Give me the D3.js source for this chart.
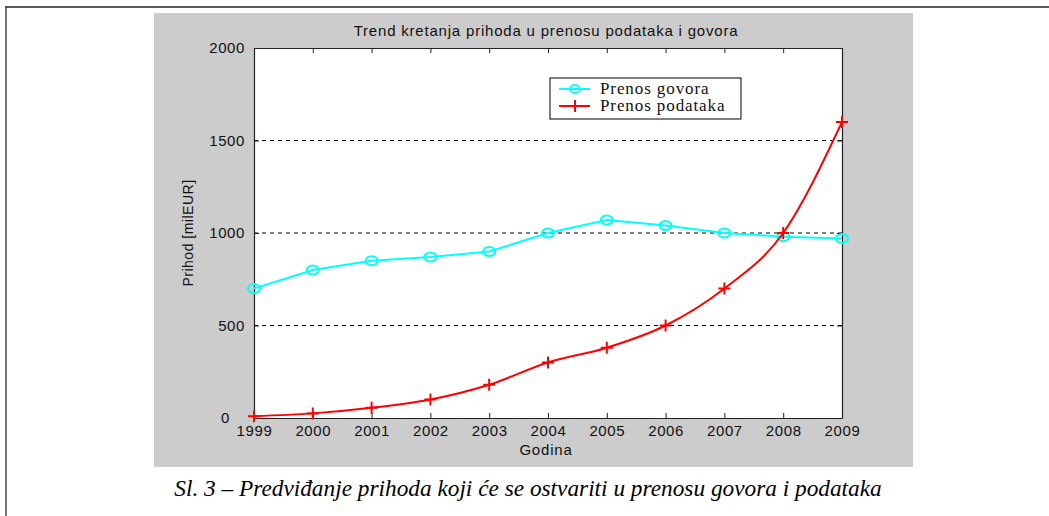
<!DOCTYPE html>
<html>
<head>
<meta charset="utf-8">
<script src="https://cdn.jsdelivr.net/npm/d3@7"></script>
<style>
  body { margin: 0; background: #fff; }
  svg { display: block; }
</style>
</head>
<body>
<svg></svg>
<script>
// Trend chart - prihodi
const years = [1999, 2000, 2001, 2002, 2003, 2004, 2005, 2006, 2007, 2008, 2009];
const govor = [700, 800, 850, 870, 900, 1000, 1070, 1040, 1000, 980, 970];
const podaci = [10, 25, 55, 100, 180, 300, 380, 500, 700, 1000, 1600];
const yTicks = [0, 500, 1000, 1500, 2000];
const gridValues = [500, 1000, 1500];

const W = 1049, H = 516;
const SANS = 'Liberation Sans, Arial, sans-serif';
const SERIF = 'Liberation Serif, Times New Roman, serif';
const SVG = d3.select('svg').attr('width', W).attr('height', H);

// frame lines + gray figure background
SVG.append('line').attr('x1', 5).attr('x2', W).attr('y1', 7).attr('y2', 7)
   .attr('stroke', '#222').attr('stroke-width', 1.5);
SVG.append('line').attr('x1', 6).attr('x2', 6).attr('y1', 7).attr('y2', H)
   .attr('stroke', '#444').attr('stroke-width', 1.5);
SVG.append('rect').attr('x', 154).attr('y', 13).attr('width', 759).attr('height', 454)
   .attr('fill', '#cccccc');

const L = 254, R = 842, T = 48, B = 418;
var xScale = d3.scaleLinear().domain([1999, 2009]).range([L, R]);
var yScale = d3.scaleLinear().domain([0, 2000]).range([B, T]);

SVG.append('rect').attr('x', L).attr('y', T).attr('width', R - L).attr('height', B - T)
   .attr('fill', '#fff');

// dashed grid
SVG.append('g').selectAll('line').data(gridValues).enter().append('line')
   .attr('x1', L).attr('x2', R)
   .attr('y1', d => yScale(d)).attr('y2', d => yScale(d))
   .attr('stroke', '#000').attr('stroke-dasharray', '4,4');

// axes with inward ticks
const tickFont = g => g.selectAll('text').style('font-family', SANS)
                                        .style('font-size', '15px').style('letter-spacing', '0.6px')
                                        .attr('fill', '#111');
var xAxis = d3.axisBottom(xScale).tickValues(years).tickFormat(d3.format('d'))
              .tickSize(-5).tickSizeOuter(0).tickPadding(7);
var xTop = d3.axisTop(xScale).tickValues(years).tickFormat('').tickSize(-5).tickSizeOuter(0);
var yAxis = d3.axisLeft(yScale).tickValues(yTicks).tickFormat(d3.format('d'))
              .tickSize(-5).tickSizeOuter(0).tickPadding(9);
var yRight = d3.axisRight(yScale).tickValues(yTicks).tickFormat('').tickSize(-5).tickSizeOuter(0);

SVG.append('g').attr('transform', `translate(0, ${B})`).call(xAxis).call(tickFont);
SVG.append('g').attr('transform', `translate(0, ${T})`).call(xTop);
var yG = SVG.append('g').attr('transform', `translate(${L}, 0)`).call(yAxis).call(tickFont);
// the zero label sits left of the 1999 label
yG.selectAll('.tick').filter(d => d === 0).select('text').attr('dx', -15);
SVG.append('g').attr('transform', `translate(${R}, 0)`).call(yRight);
SVG.selectAll('.domain').attr('stroke', '#222').attr('stroke-width', 1.2);
SVG.selectAll('.tick line').attr('stroke', '#222');

// titles
SVG.append('text').attr('x', 546).attr('y', 36)
   .style('text-anchor', 'middle').style('font-family', SANS)
   .style('font-size', '15px').style('letter-spacing', '0.8px').attr('fill', '#111')
   .text('Trend kretanja prihoda u prenosu podataka i govora');
SVG.append('text').attr('x', 546).attr('y', 455)
   .style('text-anchor', 'middle').style('font-family', SANS)
   .style('font-size', '15px').style('letter-spacing', '0.8px').attr('fill', '#111').text('Godina');
SVG.append('text').attr('transform', 'rotate(-90)')
   .attr('x', -(T + B) / 2).attr('y', 193)
   .style('text-anchor', 'middle').style('font-family', SANS)
   .style('font-size', '14px').style('letter-spacing', '0.5px').attr('fill', '#111').text('Prihod [milEUR]');

// series
var govorLine = d3.line().x((d, i) => xScale(years[i])).y(d => yScale(d));
var podaciLine = d3.line().x((d, i) => xScale(years[i])).y(d => yScale(d)).curve(d3.curveMonotoneX);

SVG.append('path').datum(govor).attr('d', govorLine)
   .attr('fill', 'none').attr('stroke', '#00ffff').attr('stroke-width', 2);
SVG.append('g').selectAll('ellipse').data(govor).enter().append('ellipse')
   .attr('cx', (d, i) => xScale(years[i])).attr('cy', d => yScale(d))
   .attr('rx', 6).attr('ry', 4.5)
   .attr('fill', 'none').attr('stroke', '#00ffff').attr('stroke-width', 2);

SVG.append('path').datum(podaci).attr('d', podaciLine)
   .attr('fill', 'none').attr('stroke', '#ff0000').attr('stroke-width', 2);
SVG.append('g').selectAll('path.plus').data(podaci).enter().append('path')
   .attr('class', 'plus')
   .attr('d', (d, i) => {
     const x = xScale(years[i]), y = yScale(d);
     return `M${x - 6},${y}H${x + 6}M${x},${y - 6}V${y + 6}`;
   })
   .attr('stroke', '#ff0000').attr('stroke-width', 2);

// legend
const leg = SVG.append('g').attr('transform', 'translate(550, 78)');
leg.append('rect').attr('width', 191).attr('height', 41)
   .attr('fill', '#fff').attr('stroke', '#000').attr('stroke-width', 1);
leg.append('line').attr('x1', 9).attr('x2', 40).attr('y1', 11).attr('y2', 11)
   .attr('stroke', '#00ffff').attr('stroke-width', 2);
leg.append('ellipse').attr('cx', 25).attr('cy', 11).attr('rx', 5).attr('ry', 4)
   .attr('fill', 'none').attr('stroke', '#00ffff').attr('stroke-width', 2);
leg.append('line').attr('x1', 9).attr('x2', 40).attr('y1', 28).attr('y2', 28)
   .attr('stroke', '#ff0000').attr('stroke-width', 2);
leg.append('path').attr('d', 'M25,22V34').attr('stroke', '#ff0000').attr('stroke-width', 2);
[['Prenos govora', 16], ['Prenos podataka', 33]].forEach(([t, y]) => {
  leg.append('text').attr('x', 50).attr('y', y)
     .style('font-family', SERIF)
     .style('font-size', '17px').style('letter-spacing', '0.9px').attr('fill', '#111').text(t);
});

// caption
SVG.append('text').attr('x', 528).attr('y', 496)
   .style('text-anchor', 'middle').style('font-family', SERIF)
   .style('font-style', 'italic').style('font-size', '23.3px').attr('fill', '#000')
   .text('Sl. 3 – Predviđanje prihoda koji će se ostvariti u prenosu govora i podataka');
</script>
</body>
</html>
